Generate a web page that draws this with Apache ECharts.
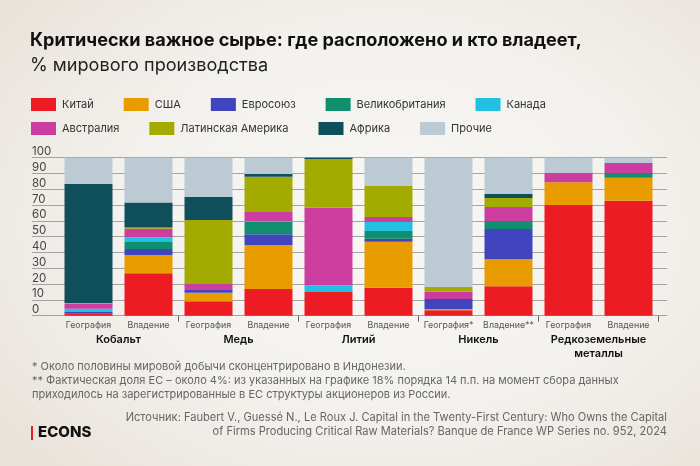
<!DOCTYPE html>
<html style="height: 100%">
<head>
    <meta charset="utf-8">
    <title>Критически важное сырье</title>
    <script src="https://cdn.jsdelivr.net/npm/echarts/dist/echarts.min.js"></script>
</head>
<body style="height: 100%; margin: 0; background: radial-gradient(ellipse 70% 75% at 55% 48%, #f8f7f5 0%, #f3f1ed 55%, #e9e2da 100%)">
    <div id="main" style="width: 700px; height: 466px"></div>
    <script type="text/javascript">
        var FONT = 'Inter, Roboto, sans-serif';

        // подписи столбцов и групп
        var barLabels = ['География', 'Владение', 'География', 'Владение', 'География', 'Владение', 'География*', 'Владение**', 'География', 'Владение'];
        var groupLabels = ['Кобальт', 'Медь', 'Литий', 'Никель', 'Редкоземельные\nметаллы'];
        var yTicks = [0, 10, 20, 30, 40, 50, 60, 70, 80, 90, 100];

        // значения, %
        var china     = [1.3, 26.8, 9.1, 16.9, 15, 17.7, 3.4, 18.6, 70, 72.8];
        var usa       = [0, 11.6, 5.5, 27.8, 0, 29.1, 0.8, 17.1, 14.4, 14.5];
        var eu        = [1, 3.8, 1.6, 6.8, 0, 1.9, 6.3, 19.2, 0, 0];
        var uk        = [0, 4.4, 0, 8, 0, 4.9, 0, 5, 0, 3];
        var canada    = [2.1, 3, 0, 0.4, 4.2, 5.7, 0, 0, 0, 0];
        var australia = [3.4, 5.4, 4.3, 5.7, 49.2, 3.1, 4.7, 8.9, 6.1, 6.3];
        var latam     = [0.2, 0.9, 40, 22.4, 30.8, 19.7, 2.9, 5.7, 0, 0];
        var africa    = [75.3, 15.8, 14.8, 1.7, 0.8, 0, 0, 2.7, 0, 0];
        var other     = [16.7, 28.3, 24.7, 10.3, 0, 17.9, 81.9, 22.8, 9.5, 3.4];

        var seriesNames = ['Китай', 'США', 'Евросоюз', 'Великобритания', 'Канада', 'Австралия', 'Латинская Америка', 'Африка', 'Прочие'];
        var seriesData = [china, usa, eu, uk, canada, australia, latam, africa, other];
        var seriesColors = ['#ed1c24', '#e89c00', '#4045bd', '#0f8f70', '#22c1e3', '#cb3ea0', '#a3ab00', '#0f4f5c', '#bccad4'];

        var footnotes = [
            '* Около половины мировой добычи сконцентрировано в Индонезии.',
            '** Фактическая доля ЕС – около 4%: из указанных на графике 18% порядка 14 п.п. на момент сбора данных',
            'приходилось на зарегистрированные в ЕС структуры акционеров из России.'
        ];
        var sourceLines = [
            'Источник: Faubert V., Guessé N., Le Roux J. Capital in the Twenty-First Century: Who Owns the Capital',
            'of Firms Producing Critical Raw Materials? Banque de France WP Series no. 952, 2024'
        ];

        function legendRow(names, top) {
            return {
                data: names,
                left: 31,
                top: top,
                padding: 0,
                itemWidth: 25,
                itemHeight: 13,
                itemGap: 30,
                icon: 'rect',
                selectedMode: false,
                textStyle: { fontFamily: FONT, fontSize: 11, color: '#333', padding: [0, 0, 0, 1] }
            };
        }

        function textEl(text, x, y, size, color, weight, align) {
            return {
                type: 'text',
                x: x,
                y: y,
                style: { text: text, fontFamily: FONT, fontSize: size, fill: color, fontWeight: weight || 400, align: align || 'left', verticalAlign: 'middle' }
            };
        }

        var graphics = [
            textEl('Критически важное сырье: где расположено и кто владеет,', 30, 41, 18.1, '#111', 700),
            textEl('% мирового производства', 30, 66, 18.1, '#222', 400),
            { type: 'rect', shape: { x: 31, y: 426, width: 2, height: 14 }, style: { fill: '#ed1c24' } },
            textEl('ECONS', 38, 432, 15, '#111', 800)
        ];
        footnotes.forEach(function (line, i) {
            graphics.push(textEl(line, 32, 367 + i * 14, 11, '#666'));
        });
        sourceLines.forEach(function (line, i) {
            graphics.push(textEl(line, 667, 418 + i * 14, 11.1, '#666', 400, 'right'));
        });

        var myChart = echarts.init(document.getElementById('main'));

        myChart.setOption({
            animation: false,
            textStyle: { fontFamily: FONT },
            legend: [legendRow(seriesNames.slice(0, 5), 98), legendRow(seriesNames.slice(5), 122)],
            grid: [
                // широкая сетка под линии и подписи шкалы
                { left: 32, width: 635, top: 157.7, height: 158 },
                // сетка столбцов
                { left: 58.5, width: 600, top: 157.7, height: 158 }
            ],
            xAxis: [
                { type: 'value', gridIndex: 0, show: false, min: 0, max: 1 },
                {
                    type: 'category',
                    gridIndex: 1,
                    data: barLabels,
                    axisLine: { show: false },
                    axisTick: {
                        show: true,
                        length: 6,
                        lineStyle: { color: '#666' },
                        interval: function (index) { return index > 0 && index % 2 === 0; }
                    },
                    axisLabel: { interval: 0, fontFamily: FONT, fontSize: 8.8, color: '#555', margin: 5 }
                },
                {
                    type: 'category',
                    gridIndex: 1,
                    position: 'bottom',
                    offset: 17,
                    data: groupLabels,
                    axisLine: { show: false },
                    axisTick: { show: false },
                    axisLabel: { interval: 0, fontFamily: FONT, fontSize: 11, fontWeight: 600, color: '#111', margin: 0, lineHeight: 14, verticalAlign: 'top' }
                }
            ],
            yAxis: [
                {
                    type: 'value',
                    gridIndex: 0,
                    min: 0,
                    max: 100,
                    interval: 10,
                    axisLine: { show: false },
                    axisTick: { show: false },
                    splitLine: { show: true, lineStyle: { color: '#a3a3a3', width: 1 } },
                    axisLabel: {
                        inside: true,
                        margin: 0,
                        verticalAlign: 'bottom',
                        fontFamily: FONT,
                        fontSize: 11.5,
                        color: '#444',
                        customValues: yTicks
                    }
                },
                { type: 'value', gridIndex: 1, show: false, min: 0, max: 100 }
            ],
            series: seriesData.map(function (values, i) {
                return {
                    name: seriesNames[i],
                    type: 'bar',
                    stack: 'total',
                    xAxisIndex: 1,
                    yAxisIndex: 1,
                    barWidth: 48,
                    itemStyle: { color: seriesColors[i] },
                    data: values
                };
            }),
            graphic: graphics
        });
    </script>
</body>
</html>
